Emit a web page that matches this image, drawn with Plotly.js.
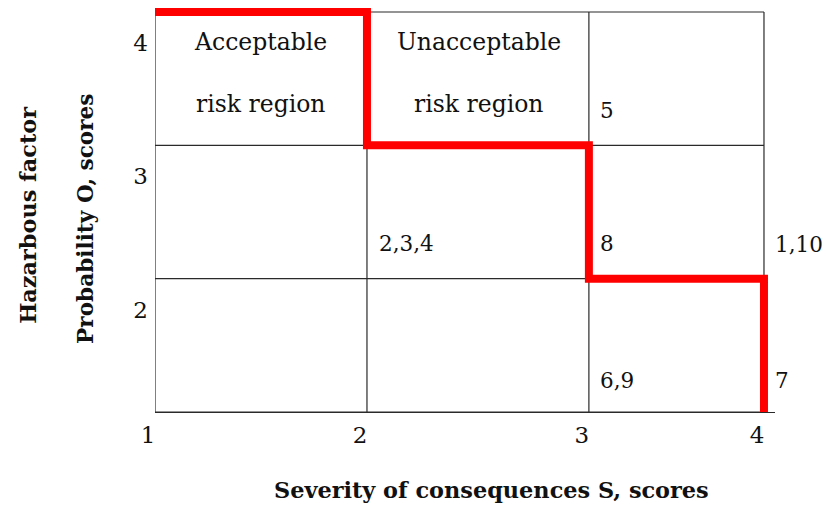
<!DOCTYPE html>
<html>
<head>
<meta charset="utf-8">
<script src="https://cdn.plot.ly/plotly-3.0.1.min.js"></script>
<style>html,body{margin:0;padding:0;background:#fff;}#chart{width:826px;height:509px;}</style>
</head>
<body>
<div id="chart"></div>
<script>
// Grid boundaries (severity columns are drawn unevenly in the source figure)
const colEdges = [1, 2, 3.047, 3.873];
const colTickText = ["1", "2", "3", "4"];
const rowEdges = [1, 2, 3, 4];
const rowTickVals = [4, 3, 2];
const rowTickText = ["4", "3", "2"];

// Boundary between acceptable and unacceptable risk
const boundaryX = [1, 2, 2, 3.047, 3.047, 3.873, 3.873];
const boundaryY = [4, 4, 3, 3, 2, 2, 1];

// Region labels (centred)
const regionText = ["Acceptable", "risk region", "Unacceptable", "risk region"];
const regionX = [1.5, 1.5, 2.53, 2.53];
const regionY = [3.775, 3.31, 3.775, 3.31];

// Hazard factor numbers placed in cells (left aligned)
const hazardText = ["5", "2,3,4", "8", "1,10", "6,9", "7"];
const hazardX = [3.097, 2.05, 3.097, 3.92, 3.097, 3.92];
const hazardY = [3.265, 2.264, 2.264, 2.26, 1.236, 1.236];

const X_RANGE = [1, 3.925];
const Y_RANGE = [1, 4.06];
const toPaperX = x => (x - X_RANGE[0]) / (X_RANGE[1] - X_RANGE[0]);

const serif = "DejaVu Serif, Liberation Serif, serif";

const shapes = [];
colEdges.forEach(x => shapes.push({type: "line", xref: "x", yref: "y", x0: x, x1: x, y0: rowEdges[0], y1: rowEdges[rowEdges.length - 1], line: {color: "#2a2a2a", width: 1.2}, layer: "below"}));
rowEdges.forEach(y => shapes.push({type: "line", xref: "x", yref: "y", x0: colEdges[0], x1: colEdges[colEdges.length - 1], y0: y, y1: y, line: {color: "#2a2a2a", width: 1.2}, layer: "below"}));

const annotations = [];
regionText.forEach((t, i) => annotations.push({x: regionX[i], y: regionY[i], xref: "x", yref: "y", text: t, showarrow: false, xanchor: "center", yanchor: "middle", font: {family: serif, size: 23.5, color: "#111"}}));
hazardText.forEach((t, i) => annotations.push({x: toPaperX(hazardX[i]), y: hazardY[i], xref: "paper", yref: "y", text: t, showarrow: false, xanchor: "left", yanchor: "middle", borderpad: 0, font: {family: serif, size: 21.5, color: "#111"}}));

annotations.push({x: 0.543, y: -0.191, xref: "paper", yref: "paper", text: "<b>Severity of consequences S, scores</b>", showarrow: false, xanchor: "center", yanchor: "middle", font: {family: serif, size: 22.4, color: "#111"}});
annotations.push({x: -0.205, y: 0.483, xref: "paper", yref: "paper", text: "<b>Hazarbous factor</b>", textangle: -90, showarrow: false, xanchor: "center", yanchor: "middle", font: {family: serif, size: 22.4, color: "#111"}});
annotations.push({x: -0.113, y: 0.473, xref: "paper", yref: "paper", text: "<b>Probability O, scores</b>", textangle: -90, showarrow: false, xanchor: "center", yanchor: "middle", font: {family: serif, size: 21.6, color: "#111"}});

const traces = [{
  x: boundaryX, y: boundaryY, type: "scatter", mode: "lines",
  line: {color: "#ff0000", width: 8}, hoverinfo: "skip", showlegend: false
}];

const layout = {
  width: 826, height: 509,
  margin: {l: 155, r: 51, t: 4, b: 97, pad: 0},
  paper_bgcolor: "#fff", plot_bgcolor: "#fff",
  showlegend: false,
  xaxis: {
    range: X_RANGE, showgrid: false, zeroline: false,
    showline: true, linecolor: "#2a2a2a", linewidth: 1.3,
    tickmode: "array", tickvals: colEdges, ticktext: colTickText, ticks: "",
    ticklabelshift: -7, ticklabelstandoff: 2,
    tickfont: {family: serif, size: 23, color: "#111"}, fixedrange: true
  },
  yaxis: {
    range: Y_RANGE, showgrid: false, zeroline: false, showline: false,
    tickmode: "array", tickvals: rowTickVals, ticktext: rowTickText, ticks: "",
    ticklabelshift: 31, ticklabelstandoff: 6,
    tickfont: {family: serif, size: 23, color: "#111"}, fixedrange: true
  },
  shapes: shapes,
  annotations: annotations
};

Plotly.newPlot("chart", traces, layout, {displayModeBar: false, staticPlot: true});
</script>
</body>
</html>
